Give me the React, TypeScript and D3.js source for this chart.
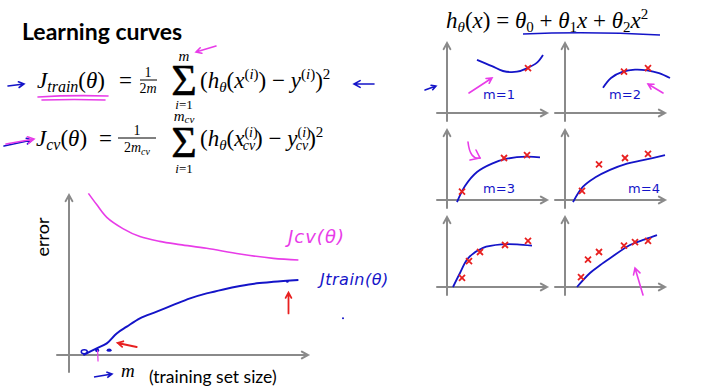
import * as d3 from "d3";

// main learning-curve data (m in arbitrary units, error in arbitrary units)
const cvM = [0.8, 1.16, 1.6, 2.3, 3.04, 3.9, 4.78, 5.94, 7.39, 8.84, 9.93];
const cvErr = [10.1, 9.4, 8.6, 7.9, 7.4, 7.1, 6.9, 6.67, 6.31, 6.04, 5.94];
const trainM = [0.58, 1.16, 1.6, 2.03, 2.47, 3.04, 3.77, 4.49, 5.22, 5.94, 6.67, 7.39, 8.12, 8.84, 9.93];
const trainErr = [0, 0.42, 0.73, 1.35, 1.77, 2.29, 2.71, 3.13, 3.54, 3.85, 4.1, 4.31, 4.48, 4.58, 4.69];

// small fits, one per training set size
const panelLabels = ["m=1", "m=2", "m=3", "m=4", "", ""];
const fitX = [
  [3.0, 4.5, 5.6, 7.0, 8.0, 9.0, 9.6],
  [3.8, 4.6, 5.8, 7.0, 8.2, 9.4, 10.5],
  [1.0, 1.8, 3.0, 4.5, 6.0, 8.0, 9.3],
  [0.8, 1.8, 3.0, 4.5, 6.2, 7.8, 10.0],
  [0.6, 1.3, 2.1, 3.6, 5.6, 7.0, 8.5],
  [1.2, 2.5, 3.5, 4.5, 6.5, 8.0, 9.2],
];
const fitY = [
  [7.6, 6.7, 6.0, 5.9, 6.4, 7.2, 8.3],
  [3.6, 5.0, 5.9, 6.2, 6.1, 5.7, 5.0],
  [-0.3, 2.0, 4.0, 5.2, 5.9, 6.2, 6.1],
  [-0.3, 1.9, 3.2, 4.3, 5.2, 5.7, 6.4],
  [0, 2.0, 4.1, 5.6, 6.1, 6.1, 5.9],
  [0, 2.0, 3.1, 4.1, 6.0, 6.8, 7.4],
];
const ptsX = [
  [8.1],
  [5.9, 8.3],
  [1.5, 5.7, 8.0],
  [1.7, 3.4, 6.0, 8.3],
  [1.5, 2.2, 3.3, 5.8, 8.1],
  [1.6, 2.3, 3.4, 5.9, 7.0, 8.3],
];
const ptsY = [
  [6.4],
  [5.9, 6.4],
  [1.2, 6.0, 6.4],
  [1.3, 5.1, 6.0, 6.6],
  [1.3, 3.7, 5.0, 6.0, 6.6],
  [1.4, 3.9, 5.0, 5.9, 6.4, 6.6],
];

const BLUE = "#1414c8";
const MAGENTA = "#e83ce8";
const RED = "#e82020";
const GRAY = "#8a8a8a";
const SERIF = "'Liberation Serif', 'DejaVu Serif', serif";
const SANS = "Lato, 'Open Sans', sans-serif";
const HAND = "'DejaVu Sans', sans-serif";

type P = [number, number];

function arrowPath(from: P, to: P, head = 6) {
  const a = Math.atan2(to[1] - from[1], to[0] - from[0]);
  const h1: P = [to[0] - head * Math.cos(a - 0.5), to[1] - head * Math.sin(a - 0.5)];
  const h2: P = [to[0] - head * Math.cos(a + 0.5), to[1] - head * Math.sin(a + 0.5)];
  return `M${from[0]},${from[1]}L${to[0]},${to[1]}M${h1[0]},${h1[1]}L${to[0]},${to[1]}L${h2[0]},${h2[1]}`;
}

function Axes({ x0, x1, y0, y1, ox, oy }: { x0: number; x1: number; y0: number; y1: number; ox: number; oy: number }) {
  return (
    <g stroke={GRAY} strokeWidth={2} fill="none" strokeLinecap="round">
      <path d={arrowPath([ox, y0], [ox, y1], 7)} />
      <path d={arrowPath([x0, oy], [x1, oy], 7)} />
    </g>
  );
}

function Cross({ x, y }: { x: number; y: number }) {
  const s = 3;
  return (
    <path
      d={`M${x - s},${y - s}L${x + s},${y + s}M${x - s},${y + s}L${x + s},${y - s}`}
      stroke={RED}
      strokeWidth={1.8}
    />
  );
}

function Sigma({ cx, base }: { cx: number; base: number }) {
  return (
    <text
      x={cx}
      y={base}
      fontSize={44}
      textAnchor="middle"
      fontFamily={SERIF}
      stroke="#000"
      strokeWidth={0.4}
    >
      Σ
    </text>
  );
}

export default function App() {
  const W = 720;
  const H = 390;

  // main chart scales
  const x = d3.scaleLinear().domain([0, 10]).range([70, 300]);
  const y = d3.scaleLinear().domain([0, 10]).range([355, 195]);
  const line = d3
    .line<[number, number]>()
    .x((d) => x(d[0]))
    .y((d) => y(d[1]))
    .curve(d3.curveCatmullRom);
  const cvData = cvM.map((m, i) => [m, cvErr[i]] as [number, number]);
  const trData = trainM.map((m, i) => [m, trainErr[i]] as [number, number]);

  // small multiples layout
  const colX = d3.scaleLinear().domain([0, 1]).range([447, 565]);
  const rowY = d3.scaleLinear().domain([0, 1]).range([113, 200]);

  return (
    <svg width={W} height={H} style={{ position: "absolute", left: 0, top: 0, background: "#fff" }}>
      <rect width={W} height={H} fill="#fff" />

      {/* title */}
      <text x={22} y={40} fontFamily={SANS} fontWeight={700} fontSize={23} fill="#000">
        Learning curves
      </text>

      {/* J_train formula */}
      <g fontFamily={SERIF} fill="#000">
        <text x={37} y={88} fontSize={23}>
          <tspan fontStyle="italic">J</tspan>
          <tspan fontStyle="italic" fontSize={16} dy={4}>train</tspan>
          <tspan dy={-4}>(</tspan>
          <tspan fontStyle="italic">θ</tspan>
          <tspan>)</tspan>
        </text>
        <text x={119} y={88} fontSize={23}>=</text>
        <text x={148} y={77} fontSize={14} textAnchor="middle">1</text>
        <line x1={140} x2={157} y1={80} y2={80} stroke="#000" strokeWidth={1} />
        <text x={148} y={93} fontSize={14} textAnchor="middle">
          2<tspan fontStyle="italic">m</tspan>
        </text>
        <Sigma cx={184} base={95} />
        <text x={184} y={61} fontSize={15} fontStyle="italic" textAnchor="middle">m</text>
        <text x={184} y={109} fontSize={13} textAnchor="middle">
          <tspan fontStyle="italic">i</tspan>=1
        </text>
        <text x={200} y={88} fontSize={23}>
          <tspan>(</tspan>
          <tspan fontStyle="italic">h</tspan>
          <tspan fontStyle="italic" fontSize={15} dy={4}>θ</tspan>
          <tspan dy={-4}>(</tspan>
          <tspan fontStyle="italic">x</tspan>
          <tspan fontSize={15} dy={-9}>(</tspan>
          <tspan fontSize={15} fontStyle="italic">i</tspan>
          <tspan fontSize={15}>)</tspan>
          <tspan dy={9}>) − </tspan>
          <tspan fontStyle="italic">y</tspan>
          <tspan fontSize={15} dy={-9}>(</tspan>
          <tspan fontSize={15} fontStyle="italic">i</tspan>
          <tspan fontSize={15}>)</tspan>
          <tspan dy={9}>)</tspan>
          <tspan fontSize={15} dy={-9}>2</tspan>
        </text>
      </g>

      {/* J_cv formula */}
      <g fontFamily={SERIF} fill="#000">
        <text x={36} y={146} fontSize={23}>
          <tspan fontStyle="italic">J</tspan>
          <tspan fontStyle="italic" fontSize={16} dy={4}>cv</tspan>
          <tspan dy={-4}>(</tspan>
          <tspan fontStyle="italic">θ</tspan>
          <tspan>)</tspan>
        </text>
        <text x={99} y={146} fontSize={23}>=</text>
        <text x={137} y={135} fontSize={14} textAnchor="middle">1</text>
        <line x1={118} x2={156} y1={138} y2={138} stroke="#000" strokeWidth={1} />
        <text x={137} y={152} fontSize={14} textAnchor="middle">
          2<tspan fontStyle="italic">m</tspan>
          <tspan fontStyle="italic" fontSize={10} dy={3}>cv</tspan>
        </text>
        <Sigma cx={184} base={157} />
        <text x={184} y={121} fontSize={15} textAnchor="middle" fontStyle="italic">
          m<tspan fontSize={11} dy={2}>cv</tspan>
        </text>
        <text x={184} y={173} fontSize={13} textAnchor="middle">
          <tspan fontStyle="italic">i</tspan>=1
        </text>
        <text x={200} y={146} fontSize={23}>
          <tspan>(</tspan>
          <tspan fontStyle="italic">h</tspan>
          <tspan fontStyle="italic" fontSize={15} dy={4}>θ</tspan>
          <tspan dy={-4}>(</tspan>
          <tspan fontStyle="italic">x</tspan>
          <tspan fontSize={14} dy={-9}>(</tspan>
          <tspan fontSize={14} fontStyle="italic">i</tspan>
          <tspan fontSize={14}>)</tspan>
          <tspan fontSize={14} fontStyle="italic" dx={-15} dy={13}>cv</tspan>
          <tspan dy={-4}>) − </tspan>
          <tspan fontStyle="italic">y</tspan>
          <tspan fontSize={14} dy={-9}>(</tspan>
          <tspan fontSize={14} fontStyle="italic">i</tspan>
          <tspan fontSize={14}>)</tspan>
          <tspan fontSize={14} fontStyle="italic" dx={-15} dy={13}>cv</tspan>
          <tspan dy={-4}>)</tspan>
          <tspan fontSize={15} dy={-9}>2</tspan>
        </text>
      </g>

      {/* pen annotations on formulas */}
      <g fill="none" strokeWidth={1.6} strokeLinecap="round">
        <path d={arrowPath([8, 86], [24, 84], 6)} stroke={BLUE} />
        <path d={arrowPath([374, 84], [354, 84], 7)} stroke={BLUE} />
        <path d="M38,97 Q70,95 108,96 M42,100 Q75,99 105,100" stroke={MAGENTA} />
        <path d={arrowPath([216, 46], [196, 52], 6)} stroke={MAGENTA} />
        <path d={arrowPath([4, 146], [32, 140], 6)} stroke={BLUE} />
        <path d={arrowPath([6, 144], [34, 139], 7)} stroke={MAGENTA} />
      </g>

      {/* main learning curves chart */}
      <Axes x0={57} x1={308} y0={372} y1={195} ox={69} oy={355} />
      <text
        transform="translate(49,237) rotate(-90)"
        fontFamily={SANS}
        fontSize={18}
        textAnchor="middle"
        fill="#000"
      >
        error
      </text>
      <path d={line(cvData) ?? ""} fill="none" stroke={MAGENTA} strokeWidth={1.6} />
      <path d={line(trData) ?? ""} fill="none" stroke={BLUE} strokeWidth={2} />
      <g fill={BLUE}>
        <ellipse cx={x(0.62)} cy={y(0.2)} rx={3} ry={2} fill="none" stroke={BLUE} strokeWidth={1.5} />
        <circle cx={x(1.18)} cy={y(0.3)} r={2} />
        <ellipse cx={x(1.7)} cy={y(0.3)} rx={2.5} ry={1.6} />
        <circle cx={x(9.45)} cy={y(4.6)} r={1.4} />
        <circle cx={343} cy={y(2.3)} r={1} />
      </g>
      <path d={`M${x(1.2)},${y(0.3)}L${x(1.22)},${y(-0.4)}`} stroke={MAGENTA} strokeWidth={1.2} />
      <g fill="none" stroke={RED} strokeWidth={1.8} strokeLinecap="round">
        <path d={arrowPath([x(9.5), y(2.6)], [x(9.5), y(3.9)], 6)} />
        <path d={arrowPath([x(2.9), y(0.5)], [x(2.07), y(0.75)], 6)} />
      </g>
      <text x={288} y={243} fontFamily={HAND} fontStyle="italic" fontSize={18} letterSpacing={1} fill={MAGENTA}>
        Jcv(θ)
      </text>
      <text x={320} y={285} fontFamily={HAND} fontStyle="italic" fontSize={16} letterSpacing={0.5} fill={BLUE}>
        Jtrain(θ)
      </text>
      <path d={arrowPath([94, 377], [112, 374], 6)} fill="none" stroke={BLUE} strokeWidth={1.6} />
      <text x={121} y={377} fontFamily={SERIF} fontStyle="italic" fontSize={19} fill="#000">
        m
      </text>
      <text x={149} y={383} fontFamily={SANS} fontSize={17.5} fill="#000">
        (training set size)
      </text>

      {/* hypothesis */}
      <text x={446} y={28} fontFamily={SERIF} fontSize={23} fill="#000">
        <tspan fontStyle="italic">h</tspan>
        <tspan fontStyle="italic" fontSize={15} dy={4}>θ</tspan>
        <tspan dy={-4}>(</tspan>
        <tspan fontStyle="italic">x</tspan>
        <tspan>) = </tspan>
        <tspan fontStyle="italic">θ</tspan>
        <tspan fontSize={15} dy={4}>0</tspan>
        <tspan dy={-4}> + </tspan>
        <tspan fontStyle="italic">θ</tspan>
        <tspan fontSize={15} dy={4}>1</tspan>
        <tspan dy={-4} fontStyle="italic">x</tspan>
        <tspan> + </tspan>
        <tspan fontStyle="italic">θ</tspan>
        <tspan fontSize={15} dy={4}>2</tspan>
        <tspan dy={-4} fontStyle="italic">x</tspan>
        <tspan fontSize={15} dy={-9}>2</tspan>
      </text>
      <path d="M523,34 Q590,31 660,35" fill="none" stroke={BLUE} strokeWidth={1.6} />

      {/* small fits */}
      {fitX.map((fx, i) => {
        const c = i % 2;
        const r = Math.floor(i / 2);
        const ox = colX(c);
        const oy = rowY(r);
        const px = d3.scaleLinear().domain([0, 10]).range([ox, ox + 100]);
        const py = d3.scaleLinear().domain([0, 10]).range([oy, oy - 70]);
        const fit = d3
          .line<number>()
          .x((d) => px(d))
          .y((_, k) => py(fitY[i][k]))
          .curve(d3.curveCatmullRom);
        return (
          <g key={i}>
            <Axes x0={ox - 10} x1={ox + 100} y0={oy + 8} y1={oy - 70} ox={ox} oy={oy} />
            <path d={fit(fx) ?? ""} fill="none" stroke={BLUE} strokeWidth={1.8} />
            {ptsX[i].map((vx, k) => (
              <Cross key={k} x={px(vx)} y={py(ptsY[i][k])} />
            ))}
            {panelLabels[i] && (
              <text
                x={px(i === 1 ? 6 : i === 3 ? 7.9 : 5.2)}
                y={py(i < 2 ? 2 : 1.0)}
                fontFamily={HAND}
                fontSize={13}
                fill={BLUE}
                textAnchor="middle"
              >
                {panelLabels[i]}
              </text>
            )}
          </g>
        );
      })}

      {/* pen annotations on small fits */}
      <g fill="none" strokeWidth={1.6} strokeLinecap="round">
        <path d={arrowPath([425, 90], [436, 86], 5)} stroke={BLUE} />
        <path d={arrowPath([469, 93], [492, 78], 6)} stroke={MAGENTA} />
        <path d={arrowPath([663, 93], [648, 84], 6)} stroke={MAGENTA} />
        <path d="M468,142 Q470,160 480,158" stroke={MAGENTA} />
        <path d="M470,160 L480,158 L476,150" stroke={MAGENTA} />
        <path d={arrowPath([643, 295], [635, 268], 7)} stroke={MAGENTA} />
      </g>
    </svg>
  );
}
